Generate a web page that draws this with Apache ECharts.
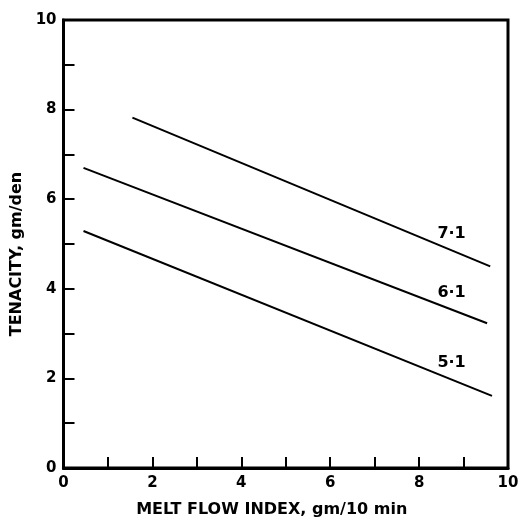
<!DOCTYPE html>
<html>
<head>
<meta charset="utf-8">
<style>
  html, body { margin: 0; padding: 0; background: #fff; }
  #chart { width: 520px; height: 520px; }
</style>
<script src="https://cdn.jsdelivr.net/npm/echarts@6/dist/echarts.min.js"></script>
</head>
<body>
<div id="chart"></div>
<script>
// Tenacity vs. melt flow index, one straight line per draw ratio
const drawRatios = ['7·1', '6·1', '5·1'];
const line71 = [[1.55, 7.82], [9.6, 4.5]];
const line61 = [[0.45, 6.70], [9.53, 3.23]];
const line51 = [[0.45, 5.29], [9.64, 1.61]];
// where each ratio label sits (data units)
const labelPoints = [[8.73, 5.22], [8.73, 3.9], [8.73, 2.34]];
const xTicks = [0, 2, 4, 6, 8, 10];
const yTicks = [0, 2, 4, 6, 8, 10];

const FONT = '"DejaVu Sans", sans-serif';
const lines = [line71, line61, line51];

const axisCommon = {
  type: 'value',
  min: 0,
  max: 10,
  interval: 2,
  axisLine: { show: true, lineStyle: { color: '#000', width: 3 } },
  axisTick: { show: true, inside: true, length: 11, lineStyle: { color: '#000', width: 2 } },
  minorTick: { show: true, splitNumber: 2, length: 11, lineStyle: { color: '#000', width: 2 } },
  splitLine: { show: false },
  axisLabel: {
    color: '#000', fontFamily: FONT, fontWeight: 'bold', fontSize: 15,
    formatter: v => (xTicks.includes(v) ? String(v) : '')
  },
  nameLocation: 'middle',
  nameTextStyle: { color: '#000', fontFamily: FONT, fontWeight: 'bold', fontSize: 16 }
};

const series = lines.map((pts, i) => ({
  type: 'line',
  name: drawRatios[i],
  data: pts,
  symbol: 'none',
  lineStyle: { color: '#000', width: 2 },
  silent: true
}));

series.push({
  type: 'scatter',
  data: labelPoints.map((p, i) => ({ value: p, name: drawRatios[i] })),
  symbolSize: 0,
  itemStyle: { opacity: 1, color: '#000' },
  silent: true,
  label: {
    show: true,
    position: 'inside',
    formatter: p => p.name,
    color: '#000', fontFamily: FONT, fontWeight: 'bold', fontSize: 16
  }
});

const chart = echarts.init(document.getElementById('chart'), null, { renderer: 'canvas' });
chart.setOption({
  animation: false,
  backgroundColor: '#fff',
  grid: {
    left: 63.5, right: 12, top: 20, bottom: 52,
    outerBoundsMode: 'none',
    containLabel: false,
    show: true, borderColor: '#000', borderWidth: 3
  },
  xAxis: Object.assign({}, axisCommon, {
    name: 'MELT FLOW INDEX, gm/10 min',
    nameGap: 34,
    nameTextStyle: Object.assign({}, axisCommon.nameTextStyle, { padding: [0, 28, 0, 0] }),
    axisLabel: Object.assign({}, axisCommon.axisLabel, { margin: 8 })
  }),
  yAxis: Object.assign({}, axisCommon, {
    name: 'TENACITY, gm/den',
    nameGap: 37,
    nameTextStyle: Object.assign({}, axisCommon.nameTextStyle, { padding: [0, 20, 0, 0] }),
    axisLabel: Object.assign({}, axisCommon.axisLabel, {
      margin: 7,
      formatter: v => (yTicks.includes(v) ? String(v) : '')
    })
  }),
  series: series
});
</script>
</body>
</html>
